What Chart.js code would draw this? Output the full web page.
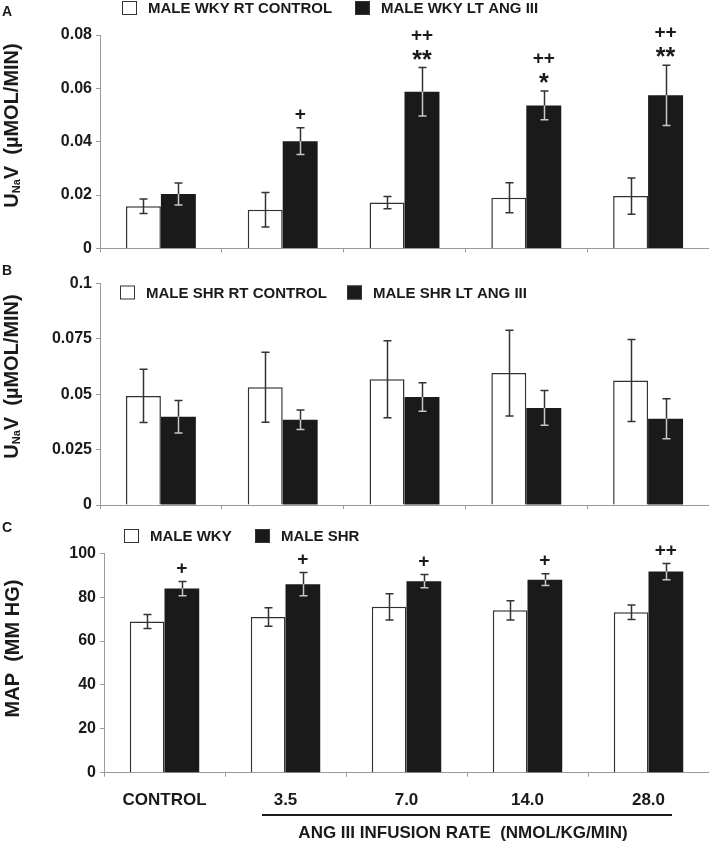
<!DOCTYPE html>
<html lang="en">
<head>
<meta charset="UTF-8">
<title>UNaV and MAP during Ang III infusion</title>
<script src="https://cdn.jsdelivr.net/npm/chart.js"></script>
<style>
  body { margin: 0; background: #fff; }
  .wrap { position: relative; width: 709px; height: 847px; }
  .panel { position: absolute; left: 0; width: 709px; }
</style>
</head>
<body>
<div class="wrap">
  <div class="panel" style="top:0;height:262px"><canvas id="chartA"></canvas></div>
  <div class="panel" style="top:262px;height:258px"><canvas id="chartB"></canvas></div>
  <div class="panel" style="top:520px;height:327px"><canvas id="chartC"></canvas></div>
</div>
<script>
const categories = ['CONTROL', '3.5', '7.0', '14.0', '28.0'];

// panel A - WKY urinary sodium excretion (umol/min)
const wkyRtControl    = [0.0158, 0.0145, 0.0172, 0.0190, 0.0196];
const wkyRtControlErr = [0.0027, 0.0065, 0.0023, 0.0056, 0.0068];
const wkyLtAng        = [0.0204, 0.0402, 0.0587, 0.0536, 0.0574];
const wkyLtAngErr     = [0.0041, 0.0050, 0.0091, 0.0054, 0.0113];
const wkySig          = [[], ['+'], ['**', '++'], ['*', '++'], ['**', '++']];
const yTicksA = ['0', '0.02', '0.04', '0.06', '0.08'];

// panel B - SHR urinary sodium excretion (umol/min)
const shrRtControl    = [0.0492, 0.0531, 0.0567, 0.0595, 0.0562];
const shrRtControlErr = [0.0120, 0.0158, 0.0174, 0.0193, 0.0185];
const shrLtAng        = [0.0398, 0.0385, 0.0487, 0.0438, 0.0389];
const shrLtAngErr     = [0.0073, 0.0044, 0.0064, 0.0078, 0.0090];
const yTicksB = ['0', '0.025', '0.05', '0.075', '0.1'];

// panel C - mean arterial pressure (mm Hg)
const mapWky    = [68.9, 71.0, 75.6, 74.0, 73.1];
const mapWkyErr = [3.2, 4.2, 6.0, 4.4, 3.3];
const mapShr    = [83.9, 85.9, 87.3, 88.0, 91.7];
const mapShrErr = [3.2, 5.3, 3.0, 2.7, 3.7];
const mapSig    = [['+'], ['+'], ['+'], ['+'], ['++']];
const yTicksC = ['0', '20', '40', '60', '80', '100'];

const FONT = '"Liberation Sans", Arial, sans-serif';
const INK = '#1a1a1a';
const AXIS = '#9a9a9a';

// error bars + significance marks, drawn through the chart's own scales
const errorBars = {
  id: 'errorBars',
  afterDatasetsDraw(chart) {
    const ctx = chart.ctx;
    const y = chart.scales.y;
    chart.data.datasets.forEach((ds, di) => {
      const meta = chart.getDatasetMeta(di);
      meta.data.forEach((bar, i) => {
        const v = ds.data[i], e = ds.errors[i];
        const yt = y.getPixelForValue(v + e);
        const yb = y.getPixelForValue(v - e);
        const x = Math.round(bar.x) + 0.5;
        ctx.save();
        ctx.lineWidth = 1.5;
        if (ds.darkBar) {
          ctx.strokeStyle = '#333';
          ctx.beginPath();
          ctx.moveTo(x, yt); ctx.lineTo(x, bar.y);
          ctx.moveTo(x - 4, yt); ctx.lineTo(x + 4, yt);
          ctx.stroke();
          ctx.strokeStyle = '#c8c8c8';
          ctx.beginPath();
          ctx.moveTo(x, bar.y); ctx.lineTo(x, yb);
          ctx.moveTo(x - 4, yb); ctx.lineTo(x + 4, yb);
          ctx.stroke();
        } else {
          ctx.strokeStyle = '#333';
          ctx.beginPath();
          ctx.moveTo(x, yt); ctx.lineTo(x, yb);
          ctx.moveTo(x - 4, yt); ctx.lineTo(x + 4, yt);
          ctx.moveTo(x - 4, yb); ctx.lineTo(x + 4, yb);
          ctx.stroke();
        }
        if (ds.sig && ds.sig[i]) {
          ctx.fillStyle = INK;
          ctx.textAlign = 'center';
          ctx.textBaseline = 'alphabetic';
          ds.sig[i].forEach((s, k) => {
            const centre = yt - 14 - k * 19;
            if (s.indexOf('*') >= 0) {
              // asterisks sit high in the glyph box; drop the baseline so the mark is centred
              const size = 25;
              ctx.font = 'bold ' + size + 'px ' + FONT;
              ctx.fillText(s, bar.x, centre + 0.57 * size);
            } else {
              const size = 19;
              ctx.font = 'bold ' + size + 'px ' + FONT;
              ctx.fillText(s, bar.x, centre + 0.33 * size);
            }
          });
        }
        ctx.restore();
      });
    });
  }
};

// panel letter, legend boxes, rotated y title, extra x caption
const decor = {
  id: 'decor',
  afterDraw(chart, args, opts) {
    const ctx = chart.ctx;
    ctx.save();
    ctx.fillStyle = INK;
    ctx.font = 'bold 14px ' + FONT;
    ctx.textBaseline = 'middle';
    ctx.fillText(opts.letter, 2, opts.letterY);

    ctx.font = 'bold 15px ' + FONT;
    opts.legend.forEach(item => {
      ctx.fillStyle = item.fill;
      ctx.fillRect(item.x, opts.legendY - 7, 15, 14);
      ctx.strokeStyle = '#333';
      ctx.lineWidth = 1;
      ctx.strokeRect(item.x + 0.5, opts.legendY - 6.5, 14, 13);
      ctx.fillStyle = INK;
      ctx.fillText(item.text, item.x + 26, opts.legendY + 1);
    });

    // y title (rotated), pieces may carry a subscript
    ctx.translate(opts.titleX, opts.titleY);
    ctx.rotate(-Math.PI / 2);
    ctx.textBaseline = 'alphabetic';
    const big = 'bold 20px ' + FONT, small = 'bold 11px ' + FONT;
    let total = 0;
    opts.title.forEach(p => { ctx.font = p.sub ? small : big; total += ctx.measureText(p.t).width; });
    let px = -total / 2;
    opts.title.forEach(p => {
      ctx.font = p.sub ? small : big;
      ctx.fillText(p.t, px, p.sub ? 2 : 0);
      px += ctx.measureText(p.t).width;
    });
    ctx.restore();

    if (opts.caption) {
      const c = opts.caption;
      ctx.save();
      ctx.strokeStyle = INK;
      ctx.lineWidth = 2;
      ctx.beginPath();
      ctx.moveTo(c.x1, c.lineY); ctx.lineTo(c.x2, c.lineY);
      ctx.stroke();
      ctx.fillStyle = INK;
      ctx.font = 'bold 17px ' + FONT;
      ctx.textAlign = 'center';
      ctx.textBaseline = 'middle';
      ctx.fillText(c.text, c.cx, c.textY);
      ctx.restore();
    }
  }
};

function makeChart(id, cfg) {
  return new Chart(document.getElementById(id), {
    type: 'bar',
    data: {
      labels: categories,
      datasets: [
        { data: cfg.white, errors: cfg.whiteErr, backgroundColor: '#ffffff', borderColor: '#333', borderWidth: 1.5, borderSkipped: 'bottom' },
        { data: cfg.black, errors: cfg.blackErr, sig: cfg.sig, darkBar: true, backgroundColor: INK, borderColor: INK, borderWidth: 0 }
      ]
    },
    options: {
      responsive: true,
      maintainAspectRatio: false,
      animation: false,
      layout: { padding: { top: cfg.padTop, left: 0, right: 0, bottom: 0 } },
      datasets: { bar: { categoryPercentage: 0.574, barPercentage: 1.0 } },
      plugins: {
        legend: { display: false },
        tooltip: { enabled: false },
        decor: cfg.decor
      },
      scales: {
        x: {
          afterFit: s => { s.height = cfg.xHeight; },
          grid: { drawOnChartArea: false, drawTicks: true, tickLength: 4, color: AXIS, offset: true },
          border: { color: AXIS, width: 1 },
          ticks: {
            display: cfg.xLabels,
            color: INK,
            padding: 13,
            font: { family: FONT, size: 17, weight: 'bold' }
          }
        },
        y: {
          min: 0,
          max: cfg.max,
          afterFit: s => { s.width = cfg.yWidth; },
          grid: { drawOnChartArea: false, drawTicks: true, tickLength: 4, color: AXIS },
          border: { color: AXIS, width: 1 },
          ticks: {
            stepSize: cfg.step,
            padding: 4,
            color: INK,
            font: { family: FONT, size: 16, weight: 'bold' },
            callback: (v, i) => cfg.yTicks[i]
          }
        }
      }
    },
    plugins: [errorBars, decor]
  });
}

const titleUNaV = [{ t: 'U' }, { t: 'Na', sub: true }, { t: 'V  (\u00b5MOL/MIN)' }];

makeChart('chartA', {
  white: wkyRtControl, whiteErr: wkyRtControlErr,
  black: wkyLtAng, blackErr: wkyLtAngErr, sig: wkySig,
  max: 0.08, step: 0.02, yTicks: yTicksA,
  padTop: 35, xHeight: 5, yWidth: 100, xLabels: false,
  decor: {
    letter: 'A', letterY: 12,
    legendY: 8,
    legend: [
      { x: 122, fill: '#ffffff', text: 'MALE WKY RT CONTROL' },
      { x: 355, fill: INK, text: 'MALE WKY LT ANG III' }
    ],
    title: titleUNaV, titleX: 17.5, titleY: 125.5
  }
});

makeChart('chartB', {
  white: shrRtControl, whiteErr: shrRtControlErr,
  black: shrLtAng, blackErr: shrLtAngErr, sig: null,
  max: 0.1, step: 0.025, yTicks: yTicksB,
  padTop: 21.3, xHeight: 15, yWidth: 100, xLabels: false,
  decor: {
    letter: 'B', letterY: 9,
    legendY: 30.5,
    legend: [
      { x: 120, fill: '#ffffff', text: 'MALE SHR RT CONTROL' },
      { x: 347, fill: INK, text: 'MALE SHR LT ANG III' }
    ],
    title: titleUNaV, titleX: 18, titleY: 114.5
  }
});

makeChart('chartC', {
  white: mapWky, whiteErr: mapWkyErr,
  black: mapShr, blackErr: mapShrErr, sig: mapSig,
  max: 100, step: 20, yTicks: yTicksC,
  padTop: 33.3, xHeight: 74.3, yWidth: 104, xLabels: true,
  decor: {
    letter: 'C', letterY: 8,
    legendY: 16,
    legend: [
      { x: 124, fill: '#ffffff', text: 'MALE WKY' },
      { x: 255, fill: INK, text: 'MALE SHR' }
    ],
    title: [{ t: 'MAP  (MM HG)' }], titleX: 19, titleY: 128.5,
    caption: { x1: 262, x2: 672, lineY: 295, cx: 463, textY: 313, text: 'ANG III INFUSION RATE  (NMOL/KG/MIN)' }
  }
});
</script>
</body>
</html>
